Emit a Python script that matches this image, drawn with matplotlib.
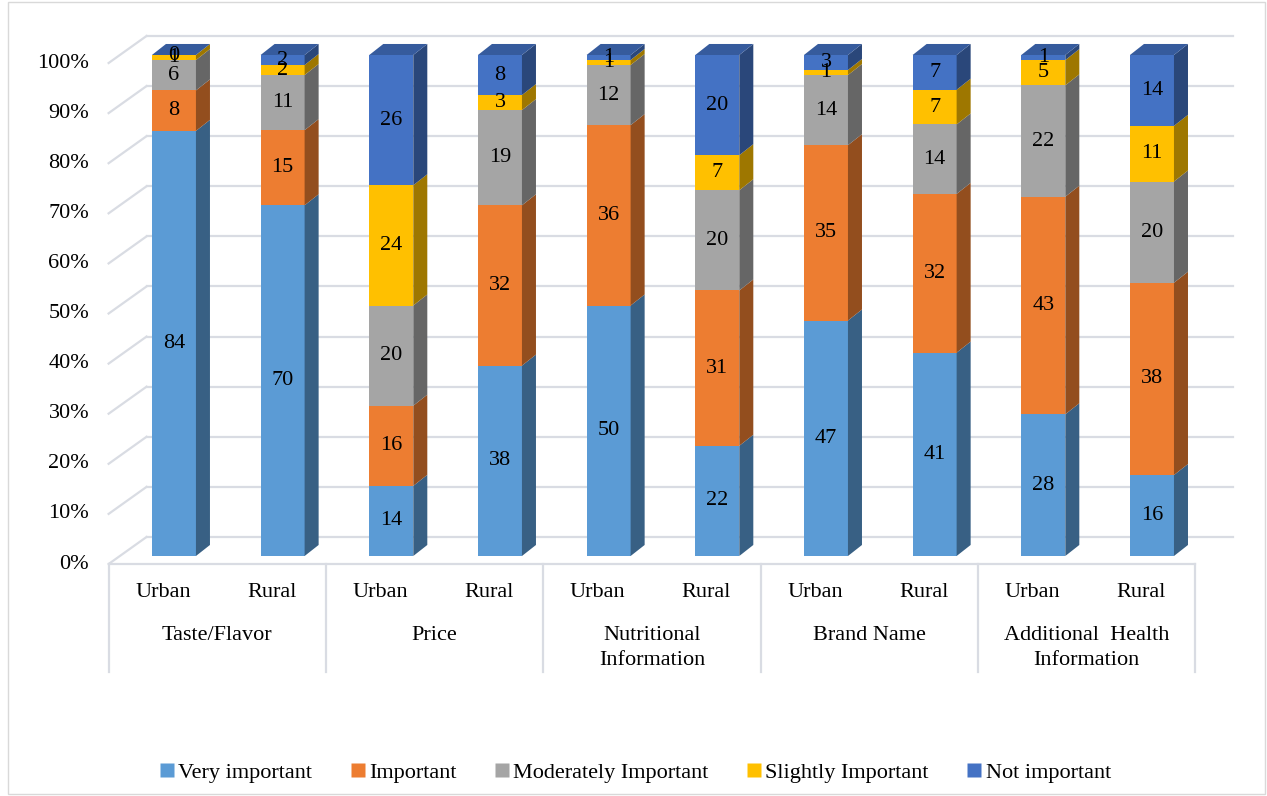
import matplotlib.pyplot as plt
from matplotlib.patches import Polygon, Rectangle
from matplotlib.lines import Line2D
import numpy as np

plt.rcParams['font.family'] = ['Liberation Serif', 'DejaVu Serif']

groups = ['Taste/Flavor', 'Price', 'Nutritional\nInformation', 'Brand Name',
          'Additional  Health\nInformation']
places = ['Urban', 'Rural']
series = ['Very important', 'Important', 'Moderately Important',
          'Slightly Important', 'Not important']

very_important = [84, 70, 14, 38, 50, 22, 47, 41, 28, 16]
important = [8, 15, 16, 32, 36, 31, 35, 32, 43, 38]
moderately = [6, 11, 20, 19, 12, 20, 14, 14, 22, 20]
slightly = [1, 2, 24, 3, 1, 7, 1, 7, 5, 11]
not_important = [0, 2, 26, 8, 1, 20, 3, 7, 1, 14]

front_colors = ['#5b9bd5', '#ed7d31', '#a5a5a5', '#ffc000', '#4472c4']

data = np.array([very_important, important, moderately, slightly, not_important], dtype=float)
pct = data / data.sum(axis=0) * 100

FS = 16


def shade(c, f):
    r, g, b = [int(c[k:k + 2], 16) / 255 for k in (1, 3, 5)]
    return (r * f, g * f, b * f)


W, H = 1267, 796
fig = plt.figure(figsize=(W / 100, H / 100), dpi=100)
# axes = front plane of the bars: x -0.5..9.5, y 0..100 %
x0px, x1px, y0px, y1px = 119.6, 1206.3, 556, 55
ax = fig.add_axes([x0px / W, 1 - y0px / H, (x1px - x0px) / W, (y0px - y1px) / H])
ax.set_xlim(-0.5, 9.5)
ax.set_ylim(0, 100)
ax.axis('off')

n = pct.shape[1]
hw = 0.2025           # half width of bar front
bdx, bdy = 0.129, 2.2  # bar depth
wdx, wdy = 0.248, 3.8  # back wall offset
fdx, fdy = -0.101, -1.6  # floor front offset
grid_c = '#d9dce3'

# back wall gridlines and left wall diagonals
for k in range(11):
    yv = k * 10
    ax.add_line(Line2D([-0.5 + wdx, 9.5 + wdx], [yv + wdy, yv + wdy],
                       color=grid_c, lw=1.6, clip_on=False, zorder=1))
    ax.add_line(Line2D([-0.5 + fdx, -0.5 + wdx], [yv + fdy, yv + wdy],
                       color=grid_c, lw=1.6, clip_on=False, zorder=1))
    ax.text(-0.5 + fdx - 0.18, yv + fdy, f'{yv}%', ha='right', va='center',
            fontsize=FS, clip_on=False)

# floor front edge
ax.add_line(Line2D([-0.5 + fdx, 9.5 + fdx], [fdy, fdy], color=grid_c, lw=1.6,
                   clip_on=False, zorder=1))

# bars
for i in range(n):
    bottom = 0
    for s in range(len(series)):
        h = pct[s, i]
        top = bottom + h
        c = front_colors[s]
        ax.add_patch(Rectangle((i - hw, bottom), 2 * hw, h, facecolor=c,
                               edgecolor='none', zorder=3, clip_on=False))
        ax.add_patch(Polygon([(i + hw, bottom), (i + hw + bdx, bottom + bdy),
                              (i + hw + bdx, top + bdy), (i + hw, top)],
                             closed=True, facecolor=shade(c, 0.62),
                             edgecolor='none', zorder=3, clip_on=False))
        ax.text(i, bottom + h / 2, f'{int(data[s, i])}', ha='center', va='center',
                fontsize=FS, zorder=5, clip_on=False)
        bottom = top
    ax.add_patch(Polygon([(i - hw, bottom), (i + hw, bottom),
                          (i + hw + bdx, bottom + bdy), (i - hw + bdx, bottom + bdy)],
                         closed=True, facecolor=shade(front_colors[-1], 0.8),
                         edgecolor='none', zorder=4, clip_on=False))

# category axis
for g in range(len(groups) + 1):
    xs = -0.5 + 2 * g + fdx
    ax.add_line(Line2D([xs, xs], [fdy, -23.2], color=grid_c, lw=1.6, clip_on=False))
for i in range(n):
    ax.text(i + fdx, -7.3, places[i % 2], ha='center', va='center', fontsize=FS,
            clip_on=False)
for g, name in enumerate(groups):
    ax.text(2 * g + 0.5 + fdx, -13.9, name, ha='center', va='top', fontsize=FS,
            linespacing=1.45, clip_on=False)

# chart border
fig.add_artist(Rectangle((8 / W, 2 / H), (1265 - 8) / W, (794 - 2) / H,
                         transform=fig.transFigure, fill=False,
                         edgecolor='#d9d9d9', lw=1))

handles = [Line2D([], [], marker='s', ls='none', markersize=10,
                  markerfacecolor=c, markeredgecolor='none') for c in front_colors]
fig.legend(handles, series, loc='center', bbox_to_anchor=(0.5, 1 - 773 / H), ncol=5,
           frameon=False, fontsize=FS, handletextpad=0.0, columnspacing=1.55,
           handlelength=1.0)

fig.savefig('out.png', dpi=100)
